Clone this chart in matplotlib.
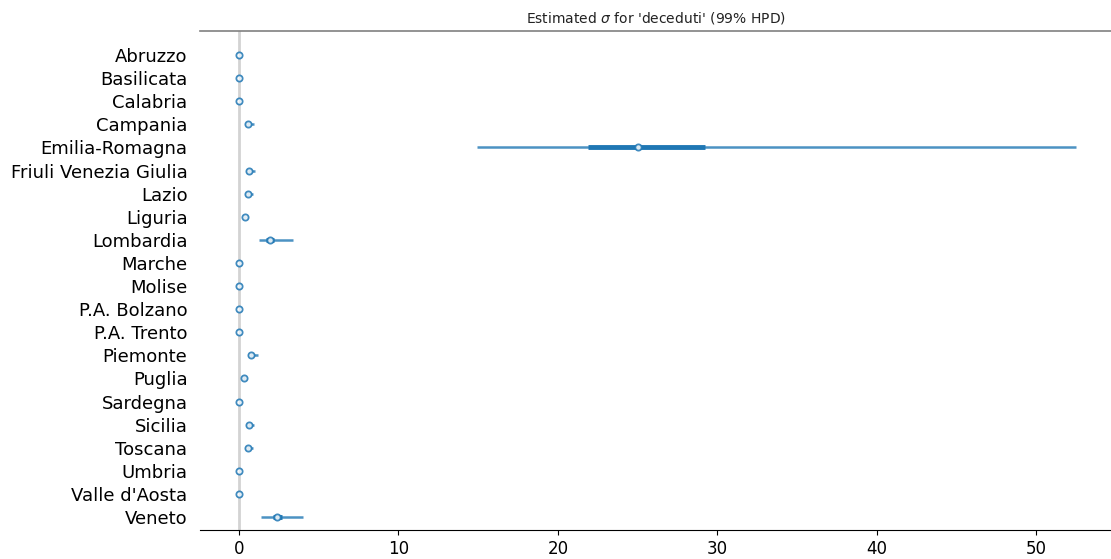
import matplotlib

matplotlib.use("Agg")
import matplotlib.pyplot as plt
import numpy as np

regions = [
    "Abruzzo", "Basilicata", "Calabria", "Campania", "Emilia-Romagna",
    "Friuli Venezia Giulia", "Lazio", "Liguria", "Lombardia", "Marche",
    "Molise", "P.A. Bolzano", "P.A. Trento", "Piemonte", "Puglia",
    "Sardegna", "Sicilia", "Toscana", "Umbria", "Valle d'Aosta", "Veneto",
]
# posterior medians and HPD bounds
median = [0.02, 0.02, 0.02, 0.55, 25.0, 0.62, 0.55, 0.35, 1.95, 0.02,
          0.02, 0.02, 0.02, 0.75, 0.33, 0.02, 0.6, 0.55, 0.02, 0.02, 2.4]
hpd99_low = [0.0, 0.0, 0.0, 0.4, 14.9, 0.45, 0.4, 0.25, 1.25, 0.0,
             0.0, 0.0, 0.0, 0.55, 0.2, 0.0, 0.45, 0.4, 0.0, 0.0, 1.4]
hpd99_high = [0.08, 0.08, 0.08, 0.95, 52.5, 1.0, 0.9, 0.55, 3.4, 0.08,
              0.08, 0.08, 0.08, 1.2, 0.5, 0.08, 0.95, 0.9, 0.08, 0.08, 4.0]
iqr_low = [0.0, 0.0, 0.0, 0.5, 21.9, 0.55, 0.5, 0.3, 1.7, 0.0,
           0.0, 0.0, 0.0, 0.68, 0.28, 0.0, 0.55, 0.5, 0.0, 0.0, 2.1]
iqr_high = [0.04, 0.04, 0.04, 0.65, 29.2, 0.72, 0.65, 0.4, 2.2, 0.04,
            0.04, 0.04, 0.04, 0.85, 0.38, 0.04, 0.7, 0.65, 0.04, 0.04, 2.7]

color = "#1f77b4"

fig = plt.figure(figsize=(11.11, 5.59), dpi=100)
ax = fig.add_axes([0.18, 0.052, 0.82, 0.8925])

y = np.arange(len(regions))[::-1]
ax.axvline(0, color="#d3d3d3", lw=2, zorder=0)
ax.hlines(y, hpd99_low, hpd99_high, color=color, lw=1.8, alpha=0.8)
ax.hlines(y, iqr_low, iqr_high, color=color, lw=3.5)
ax.plot(median, y, "o", ms=4.5, mfc="white", mec=color, mew=1.3,
        ls="none", alpha=0.85)

ax.set_yticks(y)
ax.set_yticklabels(regions, fontsize=13)
ax.tick_params(axis="y", length=0, pad=9)
ax.tick_params(axis="x", labelsize=12)
ax.set_xticks([0, 10, 20, 30, 40, 50])
ax.set_xlim(-2.45, 54.7)
ax.set_ylim(-0.56, len(regions) - 1 + 1.04)

for side in ("left", "right"):
    ax.spines[side].set_visible(False)
ax.spines["top"].set_color("#808080")
ax.spines["top"].set_linewidth(1.2)
ax.set_title("Estimated $\\sigma$ for 'deceduti' (99% HPD)", fontsize=10,
             pad=6, color="#222222")

fig.savefig("out.png", dpi=100)
